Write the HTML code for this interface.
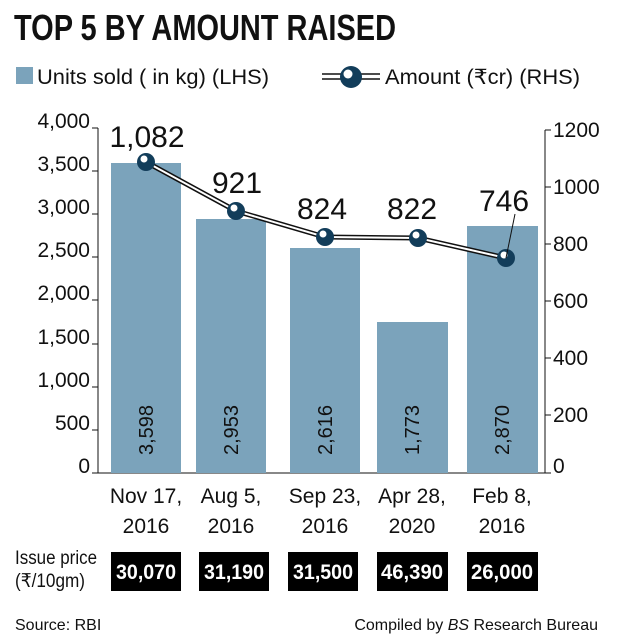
<!DOCTYPE html>
<html><head><meta charset="utf-8"><style>
body{margin:0;background:#fff;}
svg text{font-family:"Liberation Sans Narrow","Liberation Sans",sans-serif;}
</style></head><body>
<svg width="620" height="636" viewBox="0 0 620 636" xmlns="http://www.w3.org/2000/svg">
<text x="14" y="40" font-size="36" font-weight="bold" fill="#111" textLength="382" lengthAdjust="spacingAndGlyphs">TOP 5 BY AMOUNT RAISED</text>
<rect x="16" y="67" width="17" height="17" fill="#7ba3bb"/>
<text x="37" y="84" font-size="21" fill="#111" textLength="232" lengthAdjust="spacingAndGlyphs">Units sold ( in kg) (LHS)</text>
<line x1="322" y1="74" x2="380" y2="74" stroke="#111" stroke-width="1.5"/>
<line x1="322" y1="79" x2="380" y2="79" stroke="#111" stroke-width="1.5"/>
<circle cx="351" cy="77" r="11" fill="#123d5a"/><circle cx="348" cy="74" r="4.5" fill="#fff"/>
<text x="385" y="84" font-size="21" fill="#111" textLength="195" lengthAdjust="spacingAndGlyphs">Amount (₹cr) (RHS)</text>
<g font-size="21" fill="#111" text-anchor="end">
<text x="90" y="128">4,000</text><text x="90" y="171">3,500</text><text x="90" y="214">3,000</text><text x="90" y="257">2,500</text><text x="90" y="300">2,000</text><text x="90" y="344">1,500</text><text x="90" y="387">1,000</text><text x="90" y="430">500</text><text x="90" y="473">0</text>
</g>
<g stroke="#111" stroke-width="1"><line x1="98" y1="128" x2="98" y2="473"/>
<line x1="92" y1="128" x2="98" y2="128"/><line x1="92" y1="171" x2="98" y2="171"/><line x1="92" y1="214" x2="98" y2="214"/><line x1="92" y1="257" x2="98" y2="257"/><line x1="92" y1="300" x2="98" y2="300"/><line x1="92" y1="344" x2="98" y2="344"/><line x1="92" y1="387" x2="98" y2="387"/><line x1="92" y1="430" x2="98" y2="430"/><line x1="92" y1="473" x2="98" y2="473"/>
<line x1="98" y1="473" x2="545" y2="473"/>
<line x1="545" y1="130" x2="545" y2="473"/>
<line x1="545" y1="130" x2="551" y2="130"/><line x1="545" y1="187" x2="551" y2="187"/><line x1="545" y1="244" x2="551" y2="244"/><line x1="545" y1="301" x2="551" y2="301"/><line x1="545" y1="358" x2="551" y2="358"/><line x1="545" y1="415" x2="551" y2="415"/><line x1="545" y1="473" x2="551" y2="473"/>
</g>
<g font-size="21" fill="#111">
<text x="553" y="137">1200</text><text x="553" y="194">1000</text><text x="553" y="251">800</text><text x="553" y="308">600</text><text x="553" y="365">400</text><text x="553" y="422">200</text><text x="553" y="473">0</text>
</g>
<g fill="#7ba3bb">
<rect x="111" y="163" width="70" height="310"/><rect x="196" y="219" width="70" height="254"/><rect x="290" y="248" width="70" height="225"/><rect x="377" y="322" width="71" height="151"/><rect x="467" y="226" width="71" height="247"/>
</g>
<g font-size="20" fill="#111" text-anchor="middle">
<text transform="translate(153,430) rotate(-90)">3,598</text>
<text transform="translate(238,430) rotate(-90)">2,953</text>
<text transform="translate(332,430) rotate(-90)">2,616</text>
<text transform="translate(419,430) rotate(-90)">1,773</text>
<text transform="translate(509,430) rotate(-90)">2,870</text>
</g>
<polyline points="146,162 236,211 325,237 418,238 506,258" fill="none" stroke="#111" stroke-width="5"/>
<polyline points="146,162 236,211 325,237 418,238 506,258" fill="none" stroke="#fff" stroke-width="2"/>
<g fill="#123d5a">
<circle cx="146" cy="162" r="9"/><circle cx="236" cy="211" r="9"/><circle cx="325" cy="237" r="9"/><circle cx="418" cy="238" r="9"/><circle cx="506" cy="258" r="9"/>
</g>
<g fill="#fff"><circle cx="144" cy="159" r="3.5"/><circle cx="234" cy="208" r="3.5"/><circle cx="323" cy="234" r="3.5"/><circle cx="416" cy="235" r="3.5"/><circle cx="504" cy="255" r="3.5"/></g>
<line x1="506" y1="258" x2="515" y2="214" stroke="#111" stroke-width="1"/>
<g font-size="30" fill="#111" text-anchor="middle">
<text x="147" y="147">1,082</text><text x="237" y="193">921</text><text x="322" y="219">824</text><text x="412" y="219">822</text><text x="504" y="211">746</text>
</g>
<g font-size="21" fill="#111" text-anchor="middle">
<text x="146" y="503">Nov 17,</text><text x="146" y="533">2016</text>
<text x="231" y="503">Aug 5,</text><text x="231" y="533">2016</text>
<text x="325" y="503">Sep 23,</text><text x="325" y="533">2016</text>
<text x="412" y="503">Apr 28,</text><text x="412" y="533">2020</text>
<text x="502" y="503">Feb 8,</text><text x="502" y="533">2016</text>
</g>
<text x="15" y="564" font-size="19" fill="#111" textLength="82" lengthAdjust="spacingAndGlyphs">Issue price</text>
<text x="15" y="587" font-size="19" fill="#111" textLength="70" lengthAdjust="spacingAndGlyphs">(₹/10gm)</text>
<g fill="#000"><rect x="111" y="552" width="70" height="39"/><rect x="199" y="552" width="70" height="39"/><rect x="288" y="552" width="70" height="39"/><rect x="377" y="552" width="71" height="39"/><rect x="467" y="552" width="71" height="39"/></g>
<g font-size="21" font-weight="bold" fill="#fff" text-anchor="middle">
<text x="146" y="579" textLength="60" lengthAdjust="spacingAndGlyphs">30,070</text><text x="234" y="579" textLength="60" lengthAdjust="spacingAndGlyphs">31,190</text><text x="323" y="579" textLength="60" lengthAdjust="spacingAndGlyphs">31,500</text><text x="412" y="579" textLength="62" lengthAdjust="spacingAndGlyphs">46,390</text><text x="502" y="579" textLength="62" lengthAdjust="spacingAndGlyphs">26,000</text>
</g>
<text x="15" y="630" font-size="16" fill="#111">Source: RBI</text>
<text x="598" y="630" font-size="16" fill="#111" text-anchor="end">Compiled by <tspan font-style="italic">BS</tspan> Research Bureau</text>
</svg>
</body></html>
